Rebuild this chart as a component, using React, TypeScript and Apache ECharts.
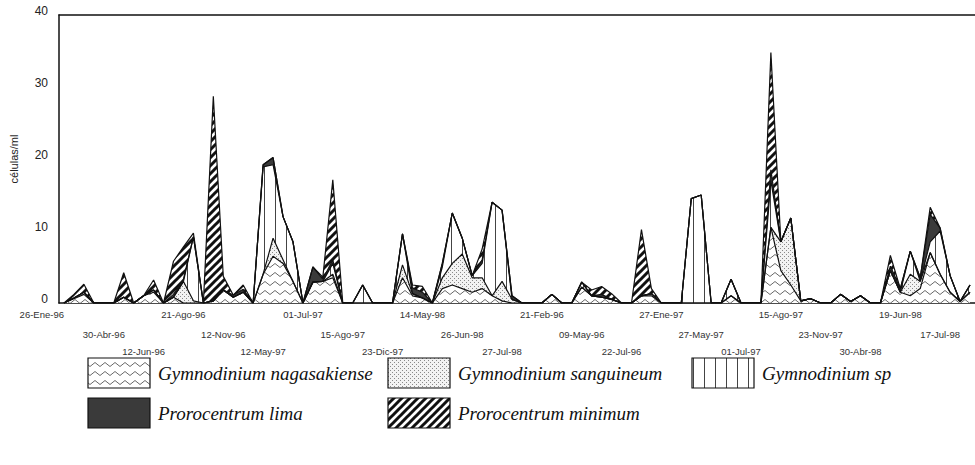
import React, { useEffect, useRef } from 'react';
import * as echarts from 'echarts';

// Tick labels shown on the category axis (every 4th sample), in three staggered rows
const tickLabels = [
  '26-Ene-96', '30-Abr-96', '12-Jun-96', '21-Ago-96', '12-Nov-96', '12-May-97',
  '01-Jul-97', '15-Ago-97', '23-Dic-97', '14-May-98', '26-Jun-98', '27-Jul-98',
  '21-Feb-96', '09-May-96', '22-Jul-96', '27-Ene-97', '27-May-97', '01-Jul-97',
  '15-Ago-97', '23-Nov-97', '30-Abr-98', '19-Jun-98', '17-Jul-98',
];
const labelStep = 4;

const nagasakiense = [
  0, 0.6, 1.2, 0, 0, 0, 0.8, 0, 1.0, 1.5,
  0, 0.8, 0, 0, 0, 0.3, 1.8, 0.8, 1.5, 0,
  4.0, 6.5, 5.5, 3.0, 0, 2.9, 3.0, 3.5, 0, 0,
  0, 0, 0, 0, 3.5, 1.0, 0.7, 0, 2.0, 2.5,
  2.0, 1.5, 2.0, 1.0, 0.3, 0, 0, 0, 0, 1.2,
  0, 0, 2.2, 1.0, 0.8, 0.5, 0, 0, 1.0, 1.0,
  0, 0, 0, 0, 0, 0, 0, 1.0, 0, 0,
  0, 10.5, 4.5, 2.5, 0.3, 0.6, 0, 0, 1.2, 0.2,
  1.0, 0, 0, 4.5, 1.5, 1.0, 2.0, 7.0, 4.0, 1.5,
  0.2, 1.5,
];
const sanguineum = [
  0, 0.1, 0.3, 0, 0, 0, 0, 0, 0, 0.3,
  0, 0, 3.0, 0.3, 0, 0, 0, 0, 0, 0,
  0, 2.5, 0.5, 0, 0, 0, 0, 0.5, 0, 0,
  0, 0, 0, 0, 1.8, 0.3, 0, 0, 1.5, 3.0,
  4.8, 2.0, 1.5, 0, 2.7, 0.5, 0, 0, 0, 0,
  0, 0, 0, 0, 0, 0, 0, 0, 0, 0.3,
  0, 0, 0, 0, 0, 0, 0, 0, 0, 0,
  0, 0, 4.0, 9.3, 0, 0, 0, 0, 0, 0,
  0, 0, 0, 0, 0, 3.0, 1.0, 0, 0, 0,
  0, 0,
];
const gymnoSp = [
  0, 0, 0, 0, 0, 0, 0, 0, 0, 0,
  0, 0, 0, 8.9, 0, 0, 0, 0, 0, 0,
  14.9, 10.2, 6.0, 5.5, 0, 0, 0, 1.5, 0, 0,
  2.5, 0, 0, 0, 4.3, 0, 0, 0, 1.5, 7.0,
  2.2, 0.3, 2.0, 13.0, 9.9, 0, 0, 0, 0, 0,
  0, 0, 0.7, 0, 0, 0, 0, 0, 0, 0,
  0, 0, 0, 14.5, 15.0, 0, 0, 2.3, 0, 0,
  0, 6.5, 0, 0, 0, 0, 0, 0, 0, 0,
  0, 0, 0, 0, 0, 3.2, 0, 1.5, 6.0, 2.3,
  0, 1.0,
];
const lima = [
  0, 0, 0, 0, 0, 0, 0, 0, 0, 0,
  0, 0.4, 0.3, 0, 0, 0, 0, 0.3, 0.4, 0,
  0.3, 1.0, 0, 0, 0, 2.1, 0.3, 0.5, 0, 0,
  0, 0, 0, 0, 0, 0.8, 0.8, 0, 0.5, 0,
  0, 0, 0.5, 0, 0, 0.5, 0, 0, 0, 0,
  0, 0, 0, 0, 0.4, 0, 0, 0, 0, 0,
  0, 0, 0, 0, 0, 0, 0, 0, 0, 0,
  0, 1.5, 0, 0, 0, 0, 0, 0, 0, 0,
  0, 0, 0, 0.6, 0.5, 0, 0.5, 3.8, 0.4, 0,
  0, 0,
];
const minimum = [
  0, 0.5, 1.1, 0, 0, 0, 3.4, 0, 0, 1.4,
  0, 4.6, 4.5, 0.5, 0, 28.4, 1.9, 0, 0.6, 0,
  0, 0, 0, 0, 0, 0, 0.3, 11.1, 0, 0,
  0, 0, 0, 0, 0, 0.4, 0.8, 0, 0, 0,
  0, 0, 1.5, 0, 0, 0, 0, 0, 0, 0,
  0, 0, 0, 0.8, 1.1, 0.8, 0, 0, 9.2, 0.7,
  0, 0, 0, 0, 0, 0, 0, 0, 0, 0,
  0, 16.3, 0, 0, 0, 0, 0, 0, 0, 0,
  0, 0, 0, 1.5, 0, 0, 0, 1.0, 0, 0,
  0, 0,
];

const seriesNames = [
  'Gymnodinium nagasakiense',
  'Gymnodinium sanguineum',
  'Gymnodinium sp',
  'Prorocentrum lima',
  'Prorocentrum minimum',
];

// sample index categories; the first one's label is right-aligned against the y axis
const categories: any[] = nagasakiense.map((_, i) =>
  i === 0 ? { value: String(i), textStyle: { align: 'right' } } : String(i)
);

const FONT = 'Arial, "Liberation Sans", sans-serif';

type Tile = (ctx: CanvasRenderingContext2D) => void;
function makePattern(w: number, h: number, bg: string, draw: Tile): any {
  const c = document.createElement('canvas');
  c.width = w;
  c.height = h;
  const ctx = c.getContext('2d')!;
  ctx.fillStyle = bg;
  ctx.fillRect(0, 0, w, h);
  draw(ctx);
  return { image: c, repeat: 'repeat', imageWidth: w, imageHeight: h };
}

function buildPatterns() {
  const zigzag = makePattern(10, 9, '#ffffff', (ctx) => {
    ctx.strokeStyle = '#6a6a6a';
    ctx.lineWidth = 1;
    ctx.beginPath();
    ctx.moveTo(0, 6.5);
    ctx.lineTo(5, 2.5);
    ctx.lineTo(10, 6.5);
    ctx.stroke();
  });
  const dots = makePattern(4, 4, '#f3f3f3', (ctx) => {
    ctx.fillStyle = '#8a8a8a';
    ctx.fillRect(0, 0, 1, 1);
    ctx.fillRect(2, 2, 1, 1);
  });
  const vlines = makePattern(11, 4, '#ffffff', (ctx) => {
    ctx.fillStyle = '#444444';
    ctx.fillRect(0, 0, 1, 4);
  });
  const stripes = makePattern(8, 8, '#ffffff', (ctx) => {
    ctx.strokeStyle = '#111111';
    ctx.lineWidth = 3;
    ctx.beginPath();
    ctx.moveTo(0, 8);
    ctx.lineTo(8, 0);
    ctx.moveTo(-2, 2);
    ctx.lineTo(2, -2);
    ctx.moveTo(6, 10);
    ctx.lineTo(10, 6);
    ctx.stroke();
  });
  return [zigzag, dots, vlines, '#3a3a3a', stripes];
}

export default function App() {
  const ref = useRef<HTMLDivElement>(null);

  useEffect(() => {
    if (!ref.current) return;
    const chart = echarts.init(ref.current, null, { renderer: 'svg' });
    const fills = buildPatterns();
    const values = [nagasakiense, sanguineum, gymnoSp, lima, minimum];

    const legendPos = [
      { x: 88, y: 358 },
      { x: 388, y: 358 },
      { x: 692, y: 358 },
      { x: 88, y: 398 },
      { x: 388, y: 398 },
    ];
    const legendEls: any[] = [];
    seriesNames.forEach((name, i) => {
      const p = legendPos[i];
      legendEls.push({
        type: 'rect',
        shape: { x: p.x, y: p.y, width: 62, height: 30 },
        style: { fill: fills[i], stroke: '#111', lineWidth: 1.2 },
        silent: true,
      });
      legendEls.push({
        type: 'text',
        x: p.x + 70,
        y: p.y + 15,
        style: {
          text: name,
          fontFamily: '"Liberation Serif", serif',
          fontStyle: 'italic',
          fontSize: 19,
          fill: '#111',
          verticalAlign: 'middle',
          align: 'left',
        },
        silent: true,
      });
    });

    chart.setOption({
      animation: false,
      backgroundColor: '#ffffff',
      grid: { left: 58, top: 15, width: 925, height: 288, containLabel: false },
      xAxis: [
        {
          type: 'category',
          data: categories,
          boundaryGap: true,
          axisLine: { show: true, lineStyle: { color: '#111', width: 1.5 } },
          axisTick: { show: false },
          axisLabel: {
            interval: labelStep - 1,
            showMinLabel: true,
            showMaxLabel: true,
            margin: 6,
            fontSize: 9.5,
            fontFamily: FONT,
            color: '#333',
            formatter: (_v: string, idx: number) => {
              if (idx % labelStep !== 0) return '';
              const k = idx / labelStep;
              const t = tickLabels[k];
              if (!t) return '';
              const row = k % 3;
              if (row === 0) return `{t|${t}}`;
              if (row === 1) return `{g1| }\n{t|${t}}`;
              return `{g2| }\n{t|${t}}`;
            },
            rich: {
              t: { fontSize: 9.5, lineHeight: 11, color: '#333', fontFamily: FONT },
              g1: { fontSize: 9.5, lineHeight: 20 },
              g2: { fontSize: 9.5, lineHeight: 37 },
            },
          },
          splitLine: { show: false },
        },
        {
          type: 'category',
          data: categories,
          position: 'top',
          boundaryGap: true,
          axisLine: { show: true, lineStyle: { color: '#111', width: 1.5 } },
          axisTick: { show: false },
          axisLabel: { show: false },
          splitLine: { show: false },
        },
      ],
      yAxis: {
        type: 'value',
        min: 0,
        max: 40,
        interval: 10,
        name: 'células/ml',
        nameLocation: 'middle',
        nameRotate: 90,
        nameGap: 40,
        nameTextStyle: { fontSize: 11, color: '#222', fontFamily: FONT },
        axisLine: { show: true, lineStyle: { color: '#111', width: 1.5 } },
        axisTick: { show: false },
        axisLabel: {
          fontSize: 12,
          lineHeight: 8,
          verticalAlign: 'bottom',
          color: '#222',
          margin: 11,
          fontFamily: FONT,
        },
        splitLine: { show: false },
      },
      series: seriesNames.map((name, i) => ({
        name,
        type: 'line',
        stack: 'total',
        data: values[i],
        symbol: 'none',
        showSymbol: false,
        lineStyle: { color: '#111', width: 1.2 },
        itemStyle: { color: '#111' },
        areaStyle: { color: fills[i], opacity: 1 },
        z: 2,
      })),
      graphic: legendEls,
    });

    return () => chart.dispose();
  }, []);

  return (
    <div
      ref={ref}
      style={{ position: 'absolute', left: 0, top: 0, width: 975, height: 465, background: '#fff' }}
    />
  );
}
